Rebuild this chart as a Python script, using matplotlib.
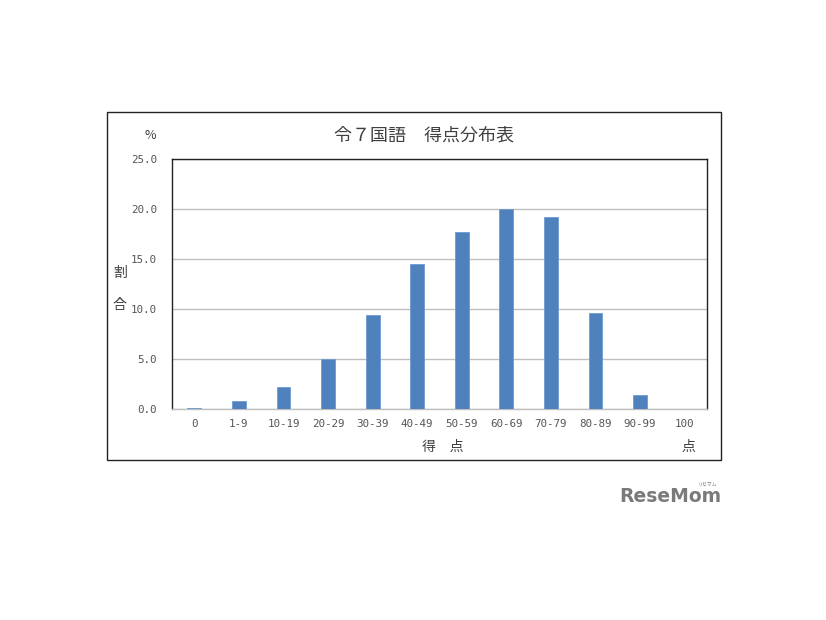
import matplotlib
matplotlib.use('Agg')
import matplotlib.pyplot as plt
from matplotlib.patches import Rectangle

plt.rcParams['font.family'] = ['Noto Sans CJK JP', 'DejaVu Sans']

categories = ['0', '1-9', '10-19', '20-29', '30-39', '40-49', '50-59',
              '60-69', '70-79', '80-89', '90-99', '100']
shares = [0.1, 0.8, 2.2, 5.0, 9.4, 14.5, 17.7, 20.0, 19.2, 9.6, 1.4, 0.0]
yticks = [0, 5, 10, 15, 20, 25]

TXT = '#404040'
TICK = '#555555'
BAR = '#4f81bd'
MONO = ['DejaVu Sans Mono']

fig = plt.figure(figsize=(8.26, 6.2), dpi=100)
fig.patch.set_facecolor('white')

# outer chart frame
fig.patches.append(Rectangle((0.1295, 0.258), 0.7433, 0.5613, transform=fig.transFigure,
                             fill=False, edgecolor='#222222', lw=1.0))

ax = fig.add_axes([0.2082, 0.3403, 0.6477, 0.4032])
x = range(len(categories))
ax.bar(x, shares, width=0.31, color=BAR, edgecolor='#6f9bd0', lw=0.6, zorder=3)
ax.set_xlim(-0.5, len(categories) - 0.5)
ax.set_ylim(0, 25)
ax.set_yticks(yticks)
ax.set_yticklabels([f'{v:.1f}' for v in yticks], color=TICK, fontsize=7.8, family=MONO)
ax.set_xticks(list(x))
ax.set_xticklabels(categories, color=TICK, fontsize=7.8, family=MONO)
ax.tick_params(length=0)
ax.tick_params(axis='x', pad=7)
ax.tick_params(axis='y', pad=11)
ax.yaxis.grid(True, color='#bfbfbf', lw=1.0, zorder=0)
for s in ('left', 'top', 'right'):
    ax.spines[s].set_color('#222222')
    ax.spines[s].set_linewidth(1.0)
ax.spines['bottom'].set_color('#bfbfbf')
ax.spines['bottom'].set_linewidth(1.0)

fig.text(0.513, 0.782, '令７国語　得点分布表', ha='center', va='center', fontsize=13, color=TXT)
fig.text(0.182, 0.782, '%', ha='center', va='center', fontsize=9, color=TXT)
fig.text(0.145, 0.560, '割', ha='center', va='center', fontsize=10, color=TXT)
fig.text(0.145, 0.508, '合', ha='center', va='center', fontsize=10, color=TXT)
fig.text(0.536, 0.279, '得　点', ha='center', va='center', fontsize=10, color=TXT)
fig.text(0.834, 0.279, '点', ha='center', va='center', fontsize=10, color=TXT)

# watermark logo
fig.text(0.812, 0.200, 'ReseMom', ha='center', va='center', fontsize=13.5,
         fontweight='bold', color='#7a7a7a', family=['DejaVu Sans'])
fig.text(0.857, 0.219, 'リセマム', ha='center', va='center', fontsize=3.5, color='#7a7a7a')

fig.savefig('out.png', dpi=100)
